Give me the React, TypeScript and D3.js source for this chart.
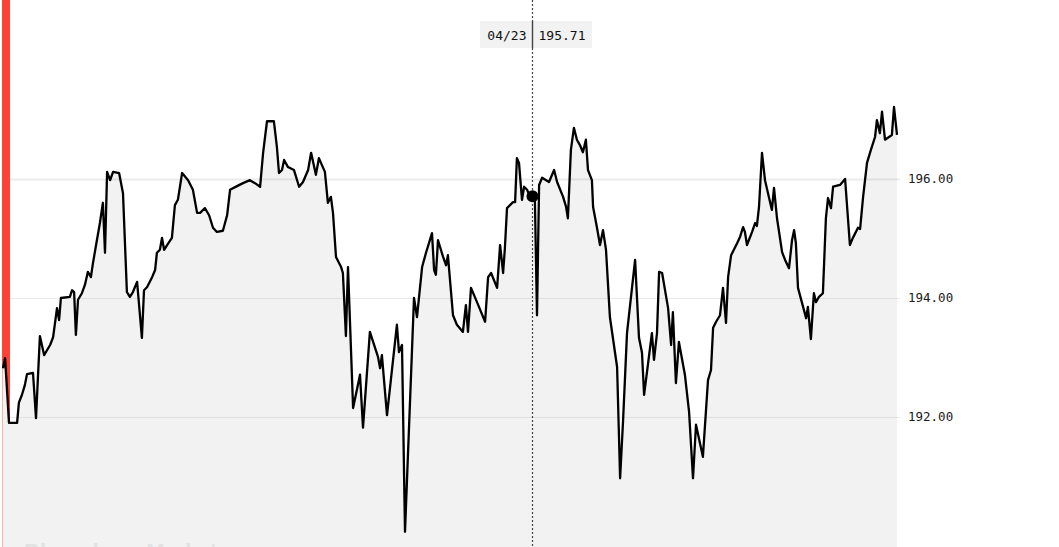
import React from "react";
import * as d3 from "d3";

const sessionIndex: number[] = [
  0, 0.7, 2, 4.7, 5.3, 6.3, 7.3, 8, 10, 11, 12.3, 13.7, 15.7, 16.7, 18, 18.7, 19.3, 22.3, 23, 23.7,
  24.3, 25, 26.3, 27.3, 28.3, 29.3, 30, 31.3, 32.3, 33.3, 34, 34.7, 35.7, 36.7, 38.7, 40, 41.3, 42.3, 43.3, 44.7,
  46.3, 47, 48, 49.7, 50.7, 51.3, 52.3, 53, 53.7, 54.7, 56.3, 57.3, 58.3, 59.7, 61.7, 63.3, 64.7, 65.7, 67.3, 68.7,
  70, 71.3, 73.3, 74.7, 75.7, 78, 80, 82.3, 84, 85.7, 86.7, 88, 90.3, 91.3, 92, 93, 93.7, 95, 97, 98.7,
  100, 101.7, 102.7, 104.3, 105.3, 107.3, 108.3, 109.3, 110, 111, 112.7, 113.3, 114.3, 115, 116.7, 119, 120, 122.3, 125, 125.7,
  126.3, 128, 131.3, 132, 133, 134, 137, 138, 139.7, 141, 143, 143.7, 144.3, 145, 146.7, 147.7, 148.3, 150, 151.3, 153.3,
  154.3, 155, 156, 158, 160.7, 161.7, 162.7, 164.7, 165.7, 166.7, 167.3, 168, 170, 170.7, 171.3, 172, 173, 173.7, 174.7, 175.7,
  176.3, 177.3, 178, 178.7, 179.7, 182, 183.7, 184.7, 186.7, 187.7, 188.3, 189.3, 190.3, 191.3, 192.3, 193.3, 194.3, 195, 196.3, 196.7,
  198, 199, 200, 201, 202.3, 204.7, 205.7, 206.7, 208, 210.7, 212, 213, 213.7, 216.3, 217, 218, 218.7, 219.7, 221.7, 222.7,
  223.3, 224.3, 225.3, 227.3, 228.7, 230, 231, 233.3, 235, 236, 236.7, 237.7, 239, 240, 241, 241.7, 242.7, 243.7, 244.7, 245.7,
  246.7, 247.3, 248, 249.7, 250.7, 251.3, 252, 253, 254, 256.3, 257, 258, 259.7, 260.7, 262, 263, 263.7, 264.3, 265, 266.7,
  267.7, 268.3, 269.3, 270.3, 271, 272, 273.3, 274.3, 275, 276, 276.7, 279, 280.7, 282.3, 283.3, 285, 285.7, 286.7, 288, 289.3,
  290.7, 291.3, 292.3, 293, 294, 296.3, 297, 298,
];

const prices: number[] = [
  192.82, 192.99, 191.9, 191.9, 192.24, 192.37, 192.54, 192.72, 192.74, 191.98, 193.36, 193.04, 193.21, 193.34, 193.83, 193.63, 194.0, 194.02, 194.13, 194.1,
  193.38, 193.97, 194.08, 194.22, 194.44, 194.35, 194.59, 194.97, 195.26, 195.6, 194.76, 196.12, 195.98, 196.12, 196.1, 195.76, 194.1, 194.02, 194.1, 194.27,
  193.33, 194.13, 194.18, 194.35, 194.47, 194.76, 194.81, 195.01, 194.81, 194.89, 195.01, 195.56, 195.65, 196.1, 195.98, 195.82, 195.43, 195.43, 195.51, 195.39,
  195.18, 195.11, 195.13, 195.39, 195.82, 195.88, 195.93, 195.98, 195.93, 195.87, 196.44, 196.97, 196.97, 196.54, 196.1, 196.15, 196.32, 196.2, 196.15, 195.87,
  195.95, 196.15, 196.44, 196.07, 196.35, 196.12, 195.6, 195.7, 195.43, 194.69, 194.52, 194.42, 193.36, 194.52, 192.15, 192.71, 191.82, 193.43, 193.01, 192.82,
  193.04, 192.03, 193.55, 193.09, 193.21, 190.07, 194.0, 193.68, 194.52, 194.76, 195.09, 194.47, 194.39, 194.97, 194.69, 194.55, 194.72, 193.71, 193.55, 193.43,
  193.88, 193.43, 194.17, 193.93, 193.6, 194.35, 194.42, 194.17, 194.89, 194.42, 194.84, 195.51, 195.61, 195.61, 196.35, 196.27, 195.65, 195.87, 195.82, 195.7,
  195.71, 195.65, 193.71, 195.9, 196.02, 195.95, 196.15, 195.95, 195.7, 195.53, 195.34, 196.49, 196.86, 196.66, 196.57, 196.45, 196.66, 196.15, 195.98, 195.53,
  195.18, 194.89, 195.14, 194.81, 193.68, 192.84, 190.97, 191.95, 193.41, 194.64, 193.33, 193.08, 192.37, 193.41, 192.96, 193.41, 194.44, 194.42, 193.83, 193.21,
  193.76, 192.57, 193.26, 192.71, 192.08, 190.97, 191.87, 191.33, 192.62, 192.79, 193.5, 193.6, 193.71, 194.17, 193.58, 194.35, 194.72, 194.82, 194.92, 195.03,
  195.19, 195.11, 194.89, 195.11, 195.26, 195.21, 195.53, 196.44, 195.98, 195.48, 195.85, 195.34, 194.77, 194.64, 194.5, 194.97, 195.14, 194.92, 194.17, 193.85,
  193.66, 193.85, 193.31, 194.08, 193.93, 194.02, 194.08, 195.34, 195.68, 195.51, 195.87, 195.9, 196.0, 194.89, 195.01, 195.18, 195.16, 195.7, 196.27, 196.49,
  196.71, 196.99, 196.77, 197.13, 196.66, 196.74, 197.21, 196.74,
];

const yTicks: number[] = [192, 194, 196];
const hoverIndex = 140; // 04/23 point
const hoverDate = "04/23";

const W = 1059;
const H = 547;

export default function App() {
  const data = sessionIndex.map((t, i) => ({ t, v: prices[i] }));
  const x = d3.scaleLinear().domain([0, 298]).range([3, 897]);
  const y = d3.scaleLinear().domain([189.815, 199.008]).range([H, 0]);

  const line = d3
    .line<{ t: number; v: number }>()
    .x((d) => x(d.t))
    .y((d) => y(d.v));
  const area = d3
    .area<{ t: number; v: number }>()
    .x((d) => x(d.t))
    .y0(H)
    .y1((d) => y(d.v));

  const hp = data[hoverIndex];
  const hx = Math.round(x(hp.t)) + 0.5;
  const hy = y(hp.v);

  return (
    <div style={{ position: "fixed", left: 0, top: 0, width: W, height: H, background: "#fff" }}>
      <svg width={W} height={H} style={{ display: "block" }}>
        <rect x={2} y={0} width={8} height={H} fill="#ff4136" />
        <path d={area(data) || ""} fill="#f2f2f2" />
        <rect x={2} y={y(prices[0])} width={1} height={H - y(prices[0])} fill="#f7b4a0" />
        {yTicks.map((t) => (
          <g key={t}>
            <line
              x1={10}
              x2={900}
              y1={Math.round(y(t)) + 0.5}
              y2={Math.round(y(t)) + 0.5}
              stroke="rgba(0,0,0,0.08)"
              strokeWidth={t === 196 ? 2 : 1}
            />
            <text
              x={908}
              y={y(t)}
              dy="0.35em"
              fontFamily="'DejaVu Sans Mono', monospace"
              fontSize={12.5}
              fill="#1a1a1a"
            >
              {d3.format(".2f")(t)}
            </text>
          </g>
        ))}
        <text
          x={24}
          y={559}
          fontFamily="'Liberation Sans', Arial, sans-serif"
          fontWeight="bold"
          fontSize={22}
          fill="#e2e2e2"
        >
          Bloomberg Markets
        </text>
        <path d={line(data) || ""} fill="none" stroke="#000" strokeWidth={2.3} strokeLinejoin="round" />
        <line x1={hx} x2={hx} y1={0} y2={H} stroke="#444" strokeWidth={1.2} strokeDasharray="2,2" />
        <rect x={480} y={21} width={112} height={27} fill="#f2f2f2" />
        <line x1={hx} x2={hx} y1={21} y2={48} stroke="#444" strokeWidth={1.4} />
        <text
          x={hx - 6}
          y={35}
          dy="0.35em"
          textAnchor="end"
          fontFamily="'DejaVu Sans Mono', monospace"
          fontSize={13}
          fill="#111"
        >
          {hoverDate}
        </text>
        <text
          x={hx + 6}
          y={35}
          dy="0.35em"
          fontFamily="'DejaVu Sans Mono', monospace"
          fontSize={13}
          fill="#111"
        >
          {d3.format(".2f")(hp.v)}
        </text>
        <circle cx={hx} cy={hy} r={6} fill="#000" />
      </svg>
    </div>
  );
}
